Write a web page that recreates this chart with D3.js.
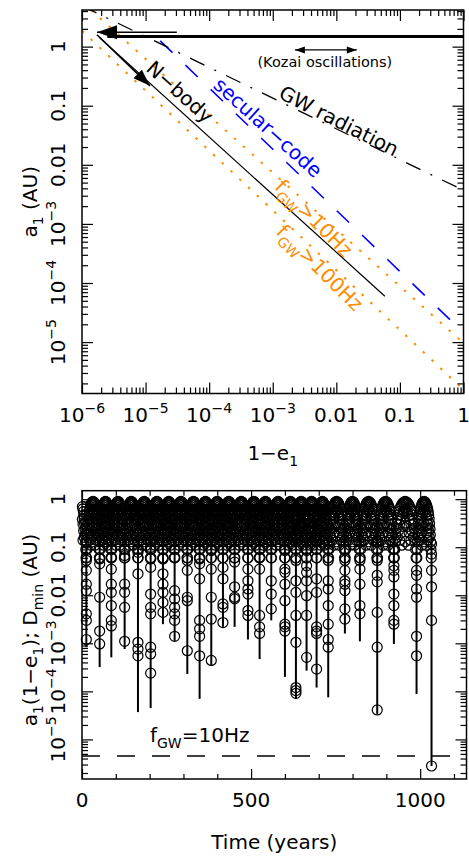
<!DOCTYPE html>
<html lang="en">
<head>
<meta charset="UTF-8" />
<title>Kozai cycles to merger</title>
<style>
  body { margin: 0; background: #fff; }
  svg { display: block; font-family: "DejaVu Sans", sans-serif; }
  .frame { fill: none; stroke: #000; stroke-width: 1.5px; }
  .axis path { display: none; }
  .axis line { stroke: #000; stroke-width: 1.2px; }
  .axis text { display: none; }
</style>
</head>
<body>
<svg width="469" height="857"></svg>
<script src="https://d3js.org/d3.v7.min.js"></script>
<script>
// ---------- top panel data: a1 against 1-e1 ----------
const topXTicks = [1e-6, 1e-5, 1e-4, 1e-3, 0.01, 0.1, 1];
const topYTicks = [1, 0.1, 0.01, 1e-3, 1e-4, 1e-5];

const kozaiLine = [[2.5e-6, 1.48], [1, 1.48]];
const nbodyLine = [[1.9e-6, 1.41], [0.058, 5.97e-5]];
const secularLine = [[1.7e-5, 1.25], [0.855, 1.7e-5]];
const gwLine = [[1e-6, 4.9], [1, 3.7e-3]];
const f10Line = [[1e-6, 5.7], [1, 9.6e-6]];
const f100Line = [[1e-6, 1.85], [1, 1.56e-6]];

const eccArrow = [[3.1e-5, 1.76], [1.72e-6, 1.76]];
const inspiralArrow = [[1.72e-6, 1.585], [1.17e-5, 0.217]];
const kozaiSpan = [[2.23e-3, 0.88], [0.021, 0.88]];

// ---------- bottom panel data: a1(1-e1) and Dmin against time ----------
const timeTicks = [0, 500, 1000];
const timeMinor = [100, 200, 300, 400, 600, 700, 800, 900, 1100];
const botYTicks = [1, 0.1, 0.01, 1e-3, 1e-4, 1e-5];

const spikeTime = [12.8, 52.2, 86.7, 126.1, 165.5, 203, 239.4, 273.9, 311.4, 347.8,
  382.3, 416.8, 451.3, 490.7, 525.2, 559.7, 600.1, 632.6, 664.1, 693.7,
  728.1, 777.4, 821.8, 873, 922.3, 989.3, 1033.6];
const spikeDmin = [8.3e-4, 3.2e-4, 5.1e-4, 7.6e-4, 3.7e-5, 4.5e-5, 2.5e-3, 1.1e-3, 2.3e-4, 7e-5,
  3.4e-4, 2.2e-3, 2.2e-3, 1.2e-3, 4.7e-4, 3e-3, 2e-4, 7e-5, 2.7e-4, 1.2e-4,
  7.5e-5, 1.6e-3, 1.1e-3, 3.4e-5, 9.7e-4, 8.8e-5, 2.8e-6];
const spikeCircles = [
  [0.053, 0.033, 0.017, 0.0125, 0.0041, 0.003, 0.0012],
  [0.057, 0.045, 0.0091, 0.0018, 0.00097],
  [0.062, 0.035, 0.017, 0.0115, 0.0061, 0.003, 0.0023],
  [0.067, 0.017, 0.0115, 0.0056, 0.0011],
  [0.078, 0.028, 0.00105, 0.00076, 0.00055],
  [0.0995, 0.057, 0.038, 0.0106, 0.0056, 0.0041, 0.00083, 0.0006, 0.00024],
  [0.057, 0.028, 0.017, 0.0115, 0.0071, 0.0044],
  [0.062, 0.0125, 0.0084, 0.0056, 0.0041, 0.003, 0.0014],
  [0.053, 0.033, 0.0091, 0.0077, 0.0007],
  [0.057, 0.045, 0.022, 0.003, 0.002, 0.0014, 0.00055],
  [0.085, 0.035, 0.0091, 0.0032, 0.00044],
  [0.038, 0.022, 0.0066, 0.0056, 0.0027],
  [0.049, 0.015, 0.0091, 0.0084],
  [0.035, 0.02, 0.0135, 0.0106, 0.0048, 0.0038],
  [0.062, 0.035, 0.0038, 0.0022, 0.0016],
  [0.02, 0.0106, 0.0052],
  [0.085, 0.035, 0.03, 0.017, 0.0077, 0.0025, 0.0022, 0.0018],
  [0.149, 0.053, 0.02, 0.0115, 0.0038, 0.00105, 0.00012, 0.000104, 0.000091],
  [0.085, 0.041, 0.03, 0.02, 0.0098, 0.0038, 0.00051],
  [0.137, 0.022, 0.0115, 0.0022, 0.0018, 0.0016, 0.00029],
  [0.117, 0.053, 0.02, 0.0135, 0.0061, 0.0025, 0.0012, 0.00083],
  [0.085, 0.053, 0.033, 0.02, 0.017, 0.0125, 0.0052, 0.0032],
  [0.053, 0.035, 0.017, 0.0061, 0.0041],
  [0.126, 0.053, 0.026, 0.019, 0.0044, 0.00083, 0.000041],
  [0.092, 0.041, 0.033, 0.024, 0.0106, 0.0061, 0.003, 0.0025],
  [0.033, 0.026, 0.0135, 0.0091, 0.0014, 0.00055],
  [0.117, 0.072, 0.033, 0.015, 0.003, 2.8e-6]
];
// one Kozai arch between two minima: upper envelope (fraction of cycle, a1(1-e1))
const archPhase = [0.02, 0.04, 0.06, 0.08, 0.1, 0.13, 0.16, 0.19, 0.22, 0.26, 0.3, 0.34, 0.38, 0.42, 0.46, 0.5,
  0.54, 0.58, 0.62, 0.66, 0.7, 0.74, 0.78, 0.81, 0.84, 0.87, 0.9, 0.92, 0.94, 0.96, 0.98];
const archValue = [0.06, 0.09, 0.13, 0.18, 0.24, 0.31, 0.39, 0.47, 0.55, 0.63, 0.7, 0.76, 0.81, 0.85, 0.88, 0.9,
  0.88, 0.85, 0.81, 0.76, 0.7, 0.63, 0.55, 0.47, 0.39, 0.31, 0.24, 0.18, 0.13, 0.09, 0.06];
// scattered points inside each arch
const fillPhase = [0.15, 0.2, 0.25, 0.3, 0.35, 0.4, 0.45, 0.5, 0.55, 0.6, 0.65, 0.7, 0.75, 0.8, 0.85,
  0.25, 0.33, 0.42, 0.5, 0.58, 0.67, 0.75, 0.35, 0.5, 0.65];
const fillValue = [0.16, 0.22, 0.3, 0.38, 0.45, 0.52, 0.58, 0.62, 0.58, 0.52, 0.45, 0.38, 0.3, 0.22, 0.16,
  0.14, 0.2, 0.27, 0.32, 0.27, 0.2, 0.14, 0.11, 0.13, 0.11];
const gwLimit = 4.5e-6;

// ---------- helpers ----------
const svg = d3.select("svg");
const ORANGE = "#ff8c00", BLUE = "#0000ff";

function rich(text, parts, size) {
  let shift = 0;
  parts.forEach(([s, kind]) => {
    const target = kind === "sup" ? -0.45 * size : kind === "sub" ? 0.3 * size : 0;
    text.append("tspan")
      .attr("dy", target - shift)
      .attr("font-size", kind ? size * 0.7 : size)
      .text(s);
    shift = target;
  });
  return text;
}

function tickParts(v) {
  const e = Math.round(Math.log10(v));
  if (e >= -2) return [[e >= 0 ? String(v) : v.toFixed(-e), ""]];
  return [["10", ""], ["−" + (-e), "sup"]];
}

function minorLog(domain) {
  const out = [];
  for (let e = -7; e <= 1; e++) {
    for (let m = 2; m <= 9; m++) {
      const v = m * Math.pow(10, e);
      if (v >= domain[0] && v <= domain[1]) out.push(v);
    }
  }
  return out;
}

function ticksAllSides(g, x, y, box, xMaj, xMin, yMaj, yMin, xLen, yLen) {
  const add = (axis, tr) => g.append("g").attr("class", "axis").attr("transform", tr).call(axis);
  add(d3.axisBottom(x).tickValues(xMaj).tickSize(-xLen[0]), `translate(0,${box.bottom})`);
  add(d3.axisBottom(x).tickValues(xMin).tickSize(-xLen[1]), `translate(0,${box.bottom})`);
  add(d3.axisTop(x).tickValues(xMaj).tickSize(-xLen[0]), `translate(0,${box.top})`);
  add(d3.axisTop(x).tickValues(xMin).tickSize(-xLen[1]), `translate(0,${box.top})`);
  add(d3.axisLeft(y).tickValues(yMaj).tickSize(-yLen[0]), `translate(${box.left},0)`);
  add(d3.axisLeft(y).tickValues(yMin).tickSize(-yLen[1]), `translate(${box.left},0)`);
  add(d3.axisRight(y).tickValues(yMaj).tickSize(-yLen[0]), `translate(${box.right},0)`);
  add(d3.axisRight(y).tickValues(yMin).tickSize(-yLen[1]), `translate(${box.right},0)`);
  g.append("rect").attr("class", "frame")
    .attr("x", box.left).attr("y", box.top)
    .attr("width", box.right - box.left).attr("height", box.bottom - box.top);
}

function head(g, tip, from, len, half) {
  const dx = tip[0] - from[0], dy = tip[1] - from[1], L = Math.hypot(dx, dy);
  const ux = dx / L, uy = dy / L;
  const bx = tip[0] - ux * len, by = tip[1] - uy * len;
  g.append("path")
    .attr("d", `M${tip[0]},${tip[1]}L${bx - uy * half},${by + ux * half}L${bx + uy * half},${by - ux * half}Z`)
    .attr("fill", "#000");
}

// ---------- top panel ----------
const tp = { left: 82, right: 463.5, top: 10, bottom: 393.5 };
const x1 = d3.scaleLog().domain([1e-6, 1]).range([tp.left, tp.right]);
const y1 = d3.scaleLog().domain([Math.pow(10, -5.87), Math.pow(10, 0.62)]).range([tp.bottom, tp.top]);
const P1 = d => [x1(d[0]), y1(d[1])];
const line1 = d3.line().x(d => x1(d[0])).y(d => y1(d[1]));

svg.append("clipPath").attr("id", "clipTop").append("rect")
  .attr("x", tp.left).attr("y", tp.top)
  .attr("width", tp.right - tp.left).attr("height", tp.bottom - tp.top);

const topG = svg.append("g");
const plot1 = topG.append("g").attr("clip-path", "url(#clipTop)");

plot1.append("path").attr("d", line1(f10Line)).attr("fill", "none")
  .attr("stroke", ORANGE).attr("stroke-width", 2).attr("stroke-dasharray", "2.5,9.5");
plot1.append("path").attr("d", line1(f100Line)).attr("fill", "none")
  .attr("stroke", ORANGE).attr("stroke-width", 2).attr("stroke-dasharray", "2.5,9.5");
plot1.append("path").attr("d", line1(secularLine)).attr("fill", "none")
  .attr("stroke", BLUE).attr("stroke-width", 1.6).attr("stroke-dasharray", "17,18");
plot1.append("path").attr("d", line1(gwLine)).attr("fill", "none")
  .attr("stroke", "#000").attr("stroke-width", 1.3).attr("stroke-dasharray", "16,11,2,11");
plot1.append("path").attr("d", line1(nbodyLine)).attr("fill", "none")
  .attr("stroke", "#000").attr("stroke-width", 1.2);
plot1.append("path").attr("d", line1(kozaiLine)).attr("fill", "none")
  .attr("stroke", "#000").attr("stroke-width", 3);

// arrows
plot1.append("path").attr("d", line1(eccArrow)).attr("stroke", "#000").attr("stroke-width", 1.5);
head(plot1, P1(eccArrow[1]), P1(eccArrow[0]), 20, 7);
plot1.append("path").attr("d", line1(inspiralArrow)).attr("stroke", "#000").attr("stroke-width", 1.5);
head(plot1, P1(inspiralArrow[1]), P1(inspiralArrow[0]), 17, 6);
plot1.append("path").attr("d", line1(kozaiSpan)).attr("stroke", "#000").attr("stroke-width", 1.3);
head(plot1, P1(kozaiSpan[0]), P1(kozaiSpan[1]), 10, 3.5);
head(plot1, P1(kozaiSpan[1]), P1(kozaiSpan[0]), 10, 3.5);

// annotations (positions in data units)
function note(g, at, angle, parts, color, size, anchor) {
  const p = P1(at);
  const t = g.append("text")
    .attr("transform", `translate(${p[0]},${p[1]}) rotate(${angle})`)
    .attr("text-anchor", anchor || "middle").attr("fill", color);
  rich(t, parts, size);
}
note(topG, [6.6e-3, 0.455], 0, [["(Kozai oscillations)", ""]], "#000", 14.5);
note(topG, [2.93e-5, 0.14], 42, [["N−body", ""]], "#000", 20);
note(topG, [9.8e-3, 0.0434], 27, [["GW radiation", ""]], "#000", 20);
note(topG, [7.1e-4, 0.035], 42, [["secular−code", ""]], BLUE, 20);
note(topG, [3.7e-3, 1.03e-3], 45, [["f", ""], ["GW", "sub"], [">10Hz", ""]], ORANGE, 20);
note(topG, [4.6e-3, 1.5e-4], 45, [["f", ""], ["GW", "sub"], [">100Hz", ""]], ORANGE, 20);

ticksAllSides(topG, x1, y1, tp, topXTicks, minorLog(x1.domain()),
  topYTicks, minorLog(y1.domain()), [11, 6], [11, 6]);

topXTicks.forEach(v => {
  rich(topG.append("text").attr("x", x1(v)).attr("y", 422).attr("text-anchor", "middle"), tickParts(v), 20);
});
topYTicks.forEach(v => {
  rich(topG.append("text").attr("transform", `translate(65,${y1(v)}) rotate(-90)`)
    .attr("text-anchor", "middle"), tickParts(v), 20);
});
rich(topG.append("text").attr("transform", `translate(37,${(tp.top + tp.bottom) / 2}) rotate(-90)`)
  .attr("text-anchor", "middle"), [["a", ""], ["1", "sub"], [" (AU)", ""]], 20);
rich(topG.append("text").attr("x", (tp.left + tp.right) / 2).attr("y", 460)
  .attr("text-anchor", "middle"), [["1−e", ""], ["1", "sub"]], 20);

// ---------- bottom panel ----------
const bp = { left: 82, right: 466.5, top: 490.7, bottom: 779 };
const x2 = d3.scaleLinear().domain([0, 1137]).range([bp.left, bp.right]);
const y2 = d3.scaleLog().domain([1.5e-6, 1.5]).range([bp.bottom, bp.top]);
const botG = svg.append("g");

// sampled points along the arches between minima
const band = [];
spikeTime.forEach((t1, k) => {
  const t0 = k === 0 ? 2 * spikeTime[0] - spikeTime[1] : spikeTime[k - 1];
  const place = (phases, values) => phases.forEach((p, i) => {
    const t = t0 + p * (t1 - t0);
    if (t >= 0) band.push([t, values[i]]);
  });
  place(archPhase, archValue);
  place(fillPhase, fillValue);
});
const spikePts = [];
spikeCircles.forEach((vals, k) => vals.forEach(v => spikePts.push([spikeTime[k], v])));

botG.append("g").selectAll("line").data(spikeTime).join("line")
  .attr("x1", d => x2(d)).attr("x2", d => x2(d))
  .attr("y1", y2(0.3)).attr("y2", (d, i) => y2(spikeDmin[i]))
  .attr("stroke", "#000").attr("stroke-width", 2);

botG.append("g").selectAll("circle").data(band.concat(spikePts)).join("circle")
  .attr("cx", d => x2(d[0])).attr("cy", d => y2(d[1])).attr("r", 5)
  .attr("fill", "none").attr("stroke", "#000").attr("stroke-width", 1.2);

botG.append("line")
  .attr("x1", bp.left).attr("x2", bp.right)
  .attr("y1", y2(gwLimit)).attr("y2", y2(gwLimit))
  .attr("stroke", "#000").attr("stroke-width", 1.5).attr("stroke-dasharray", "18,17");
rich(botG.append("text").attr("x", x2(201)).attr("y", y2(9e-6)),
  [["f", ""], ["GW", "sub"], ["=10Hz", ""]], 20);

ticksAllSides(botG, x2, y2, bp, timeTicks, timeMinor,
  botYTicks, minorLog(y2.domain()), [10, 5], [11, 6]);

timeTicks.forEach(v => {
  botG.append("text").attr("x", x2(v)).attr("y", 807).attr("text-anchor", "middle")
    .attr("font-size", 20).text(v);
});
botYTicks.forEach(v => {
  rich(botG.append("text").attr("transform", `translate(65,${y2(v)}) rotate(-90)`)
    .attr("text-anchor", "middle"), tickParts(v), 20);
});
rich(botG.append("text").attr("transform", `translate(37,630) rotate(-90)`)
  .attr("text-anchor", "middle"),
  [["a", ""], ["1", "sub"], ["(1−e", ""], ["1", "sub"], ["); D", ""], ["min", "sub"], [" (AU)", ""]], 20);
botG.append("text").attr("x", (bp.left + bp.right) / 2).attr("y", 849)
  .attr("text-anchor", "middle").attr("font-size", 20).text("Time (years)");
</script>
</body>
</html>
